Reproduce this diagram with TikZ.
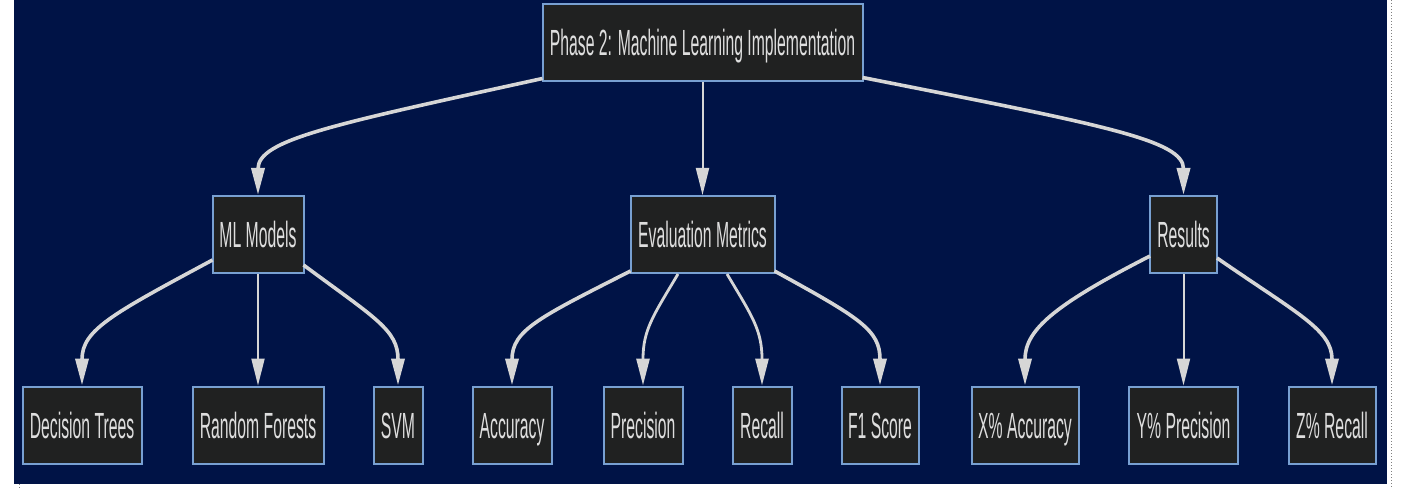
\documentclass[tikz,border=0pt]{standalone}
\usepackage{fontspec}
\setmainfont{Liberation Sans}
\usetikzlibrary{arrows.meta,calc}
\definecolor{navy}{RGB}{0,19,70}
\definecolor{boxfill}{RGB}{32,33,33}
\definecolor{boxline}{RGB}{120,160,210}
\definecolor{txt}{RGB}{222,222,222}
\definecolor{edgecol}{RGB}{214,214,214}
\newcommand\lbl[1]{\scalebox{0.45}[1.04]{#1}}
\tikzset{
  box/.style={draw=boxline, line width=2pt, fill=boxfill, text=txt,
    font=\fontsize{35}{40}\selectfont, text height=26pt, text depth=0pt,
    minimum height=77pt, inner xsep=0pt, inner ysep=0pt},
  edge/.style={draw=edgecol, line width=3.6pt,
    -{Triangle[width=13pt,length=27pt]}, fill=none},
  sedge/.style={edge, line width=2.8pt},
  vedge/.style={edge, line width=2pt}
}
\begin{document}
\begin{tikzpicture}[x=1pt,y=1pt]
\useasboundingbox (0,0) rectangle (1404,-489);
\fill[white] (0,0) rectangle (1404,-489);
\fill[navy] (14,0) rectangle (1387,-484);
\draw[gray, dotted, line width=1pt] (1391,0) -- (1391,-489);
\draw[gray, dotted, line width=1pt] (19,-484) -- (19,-489);

\node[box, minimum width=320pt] (top) at (702.5,-43) {\lbl{Phase 2: Machine Learning Implementation}};

\node[box, minimum width=91pt] (ml) at (258,-234.5) {\lbl{ML Models}};
\node[box, minimum width=144pt] (ev) at (702.5,-234.5) {\lbl{Evaluation Metrics}};
\node[box, minimum width=67pt] (res) at (1183.5,-234.5) {\lbl{Results}};

\node[box, minimum width=119pt] (dt) at (82,-425) {\lbl{Decision Trees}};
\node[box, minimum width=131pt] (rf) at (258,-425) {\lbl{Random Forests}};
\node[box, minimum width=49pt] (svm) at (398,-425) {\lbl{SVM}};
\node[box, minimum width=79pt] (acc) at (512,-425) {\lbl{Accuracy}};
\node[box, minimum width=79pt] (prec) at (643,-425) {\lbl{Precision}};
\node[box, minimum width=59pt] (rec) at (762,-425) {\lbl{Recall}};
\node[box, minimum width=77pt] (f1) at (880,-425) {\lbl{F1 Score}};
\node[box, minimum width=107pt] (xacc) at (1025,-425) {\lbl{X\% Accuracy}};
\node[box, minimum width=109pt] (yprec) at (1183.5,-425) {\lbl{Y\% Precision}};
\node[box, minimum width=87pt] (zrec) at (1332,-425) {\lbl{Z\% Recall}};

% level 1
\draw[edge] ($(top.south west)+(1,4)$) .. controls (330,-125) and (258,-140) .. (ml.north);
\draw[vedge] (top.south) -- (ev.north);
\draw[edge] ($(top.south east)+(-1,5)$) .. controls (1103,-125) and (1183.5,-140) .. (res.north);

% ML models
\draw[edge] ($(ml.south west)+(1,14)$) .. controls (112,-314) and (82,-330) .. (dt.north);
\draw[vedge] (ml.south) -- (rf.north);
\draw[edge] ($(ml.south east)+(-1,9)$) .. controls (375,-318) and (398,-330) .. (svm.north);

% evaluation metrics
\draw[edge] ($(ev.south west)+(1,3)$) .. controls (540,-317) and (512,-330) .. (acc.north);
\draw[sedge] ($(ev.south)+(-24.5,0)$) .. controls (653,-316) and (643,-330) .. (prec.north);
\draw[sedge] ($(ev.south)+(24.5,0)$) .. controls (752,-316) and (762,-330) .. (rec.north);
\draw[edge] ($(ev.south east)+(-1,3)$) .. controls (860,-318) and (880,-330) .. (f1.north);

% results
\draw[edge] ($(res.south west)+(1,18)$) .. controls (1054,-305) and (1025,-330) .. (xacc.north);
\draw[vedge] (res.south) -- (yprec.north);
\draw[edge] ($(res.south east)+(-1,16)$) .. controls (1298,-314) and (1332,-330) .. (zrec.north);
\end{tikzpicture}
\end{document}
